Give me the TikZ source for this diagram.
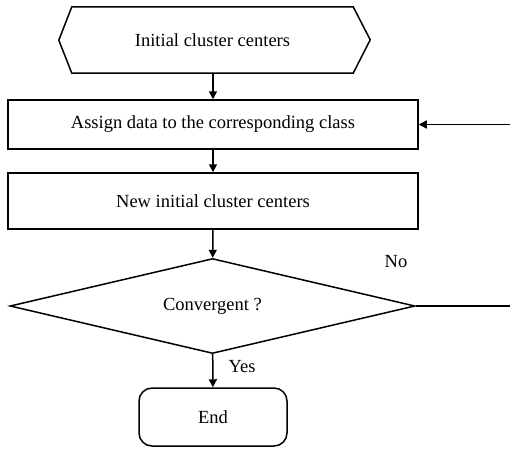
\documentclass[tikz,border=0pt]{standalone}
\usepackage{fontspec}
\setmainfont{Liberation Serif}
\usetikzlibrary{shapes.geometric,arrows.meta}
\begin{document}
\begin{tikzpicture}[x=1pt,y=-1pt,
  every node/.style={font=\fontsize{18.5}{22}\selectfont},
  line/.style={line width=1.5pt},
  arr/.style={line width=1.5pt,-{Triangle[length=8pt,width=8pt]}},
  boxnode/.style={draw,line width=1.5pt,rectangle,inner sep=0pt},
  decision/.style={draw,line width=1.5pt,diamond,shape aspect=4.26,inner sep=0pt},
  endnode/.style={draw,line width=1.5pt,rectangle,rounded corners=13pt,inner sep=0pt}]
\useasboundingbox (0,0) rectangle (510,448);
% hexagon
\node[minimum width=281pt,minimum height=66pt,inner sep=0pt] (init) at (212.5,40) {Initial cluster centers};
\draw[line,line join=miter] (init.north west) -- (init.north east) -- ++(17,33) -- (init.south east) -- (init.south west) -- ++(-13,-33) -- cycle;
\node[boxnode,minimum width=410pt,minimum height=49pt] (assign) at (213,124.5) {Assign data to the corresponding class};
\node[boxnode,minimum width=410pt,minimum height=56pt] (newc) at (213,201) {New initial cluster centers};
\node[decision,minimum width=405pt,minimum height=95pt] (conv) at (212.5,306) {Convergent ?};
\node[endnode,minimum width=148pt,minimum height=58pt] (end) at (213,417) {End};
\coordinate (r1) at (512,306);
\coordinate (r2) at (512,124.5);
\draw[arr] (init.south -| assign.north) -- (assign.north);
\draw[arr] (assign) -- (newc);
\draw[arr] (newc) -- (conv);
\draw[arr] (conv) -- (end);
\draw[line] (conv.east) -- (r1);
\draw[line] (r1) -- (r2);
\draw[arr] (r2) -- (assign.east);
\node (no) at (396,262) {No};
\node (yes) at (242,367) {Yes};
\end{tikzpicture}
\end{document}
